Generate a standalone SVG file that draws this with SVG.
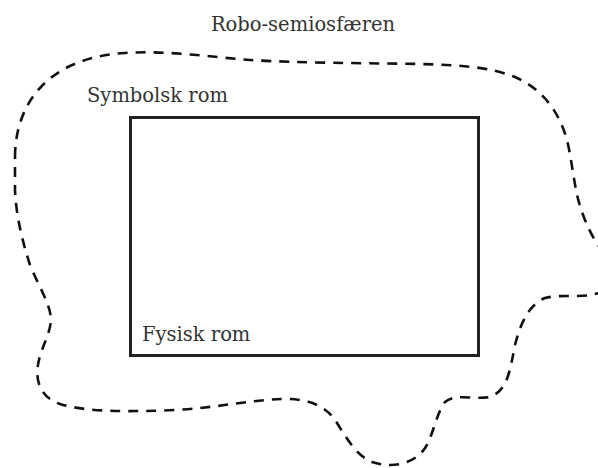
<svg xmlns="http://www.w3.org/2000/svg" width="598" height="468" viewBox="0 0 598 468">
  <style>
    .label { font-family: "DejaVu Serif", "Liberation Serif", serif; font-size: 19.5px; fill: #333; }
    .boundary { fill: none; stroke: #111; stroke-width: 2.6; stroke-dasharray: 10 8; stroke-linejoin: round; }
    .room { fill: none; stroke: #222; stroke-width: 3; }
  </style>
  <rect width="598" height="468" fill="#fff"/>

  <!-- outer semiosphere boundary -->
  <g id="semiosphere">
    <path class="boundary" d="M 15,157 C 15,130 24,105 40,88 C 60,66 90,55 125,53 C 165,50 210,57 250,60 C 300,63 360,63 420,64 C 460,65 490,67 515,77 C 545,90 560,115 567,140 C 573,165 574,190 582,212 C 590,235 600,250 612,262 C 620,280 605,292 595,294 C 580,298 560,294 545,298 C 528,305 520,325 515,345 C 510,370 508,390 490,397 C 475,400 455,393 445,402 C 435,415 433,440 422,452 C 410,465 390,468 372,462 C 355,455 345,435 335,420 C 325,405 305,398 282,399 C 250,400 215,408 175,410 C 130,412 85,412 60,404 C 42,398 35,383 38,365 C 40,350 50,335 51,320 C 51,305 38,285 30,265 C 22,240 16,215 15,190 Z"/>
    <text class="label" x="303" y="31" text-anchor="middle">Robo-semiosfæren</text>
  </g>

  <!-- symbolic space label -->
  <g id="symbolic">
    <text class="label" x="87" y="102">Symbolsk rom</text>
  </g>

  <!-- physical space box -->
  <g id="physical">
    <rect class="room" x="130.5" y="117.5" width="348" height="238"/>
    <text class="label" x="142" y="341">Fysisk rom</text>
  </g>
</svg>
